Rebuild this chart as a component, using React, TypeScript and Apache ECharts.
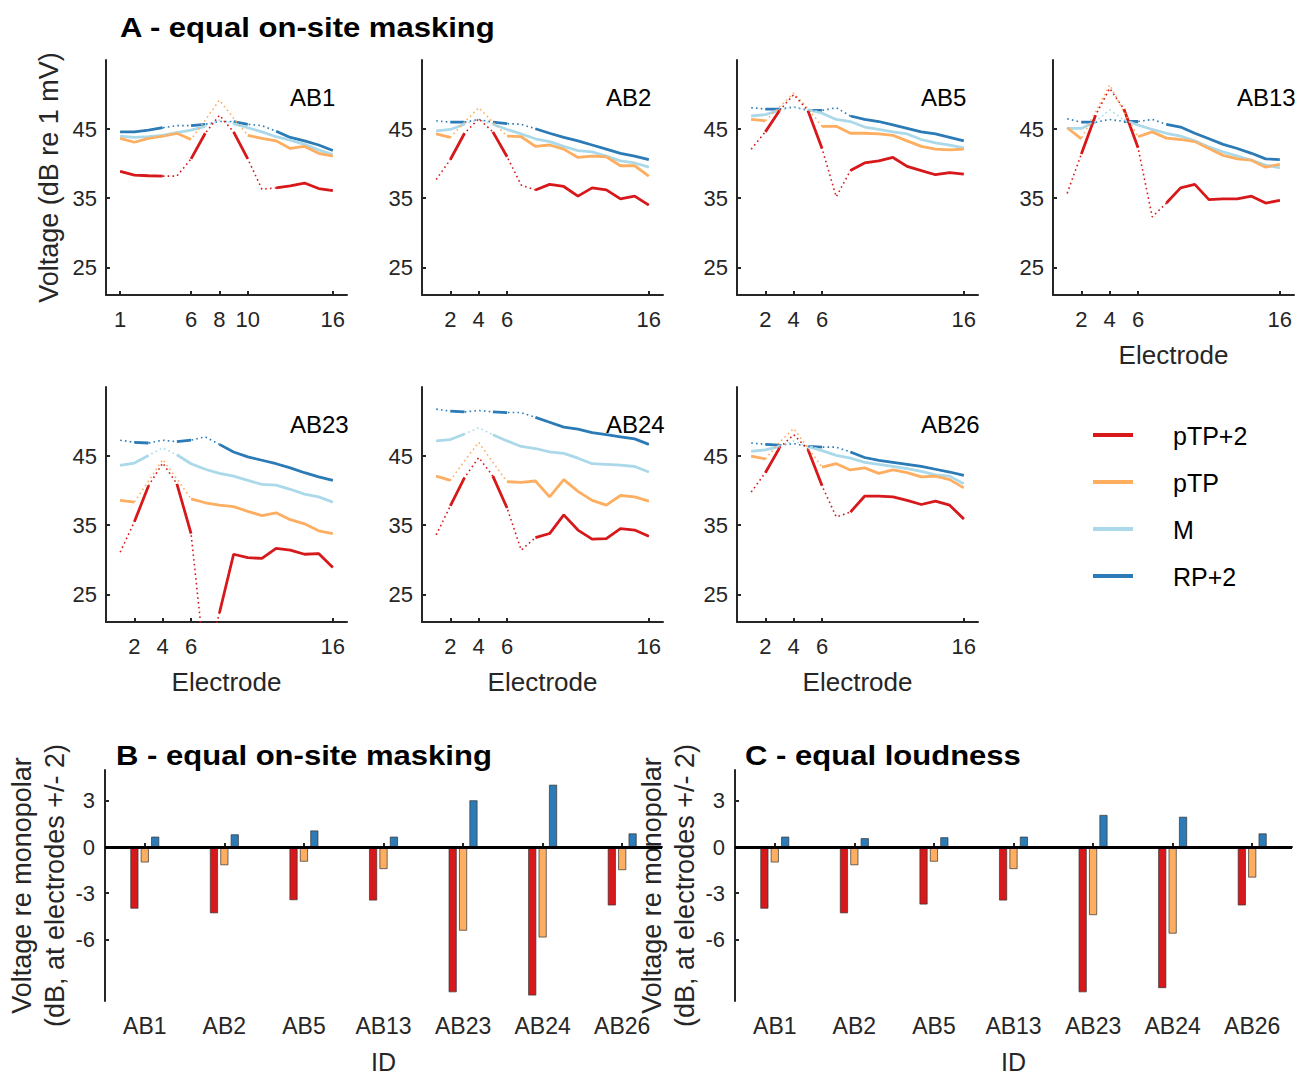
import React, { useEffect, useRef } from 'react';
import * as echarts from 'echarts';

// ---------------- DATA ----------------
const electrodes = [1, 2, 3, 4, 5, 6, 7, 8, 9, 10, 11, 12, 13, 14, 15, 16];
const seriesNames = ['pTP+2', 'pTP', 'M', 'RP+2'];
const seriesColors = ['#d7191c', '#fdae61', '#abd9e9', '#2c7bb6'];
const ids = ['AB1', 'AB2', 'AB5', 'AB13', 'AB23', 'AB24', 'AB26'];
const probeElectrode = [8, 4, 4, 4, 4, 4, 4];
// electrodes (relative to probe) with no solid segment, per series
const gapOffsets = [[-3, 0, 3], [-1, 0, 1], [0], [-3, 0, 3]];
const xTicksAB1 = [1, 6, 8, 10, 16];
const xTicksOther = [2, 4, 6, 16];
const yTicksA = [25, 35, 45];
const yTicksBC = [-6, -3, 0, 3];

const AB1_pTP2 = [38.9, 38.35, 38.25, 38.2, 38.2, 40.7, 44.4, 47.0, 44.6, 40.7, 36.3, 36.5, 36.8, 37.2, 36.4, 36.1];
const AB1_pTP = [43.65, 43.1, 43.65, 44.0, 44.4, 43.5, 46.3, 49.2, 46.6, 44.1, 43.65, 43.3, 42.2, 42.5, 41.5, 41.1];
const AB1_M = [44.0, 43.8, 43.9, 44.1, 44.5, 44.85, 45.4, 46.3, 45.8, 45.2, 44.6, 43.9, 43.4, 42.8, 42.0, 41.3];
const AB1_RP2 = [44.6, 44.6, 44.85, 45.2, 45.5, 45.5, 45.7, 46.1, 46.1, 45.7, 45.5, 44.7, 43.8, 43.3, 42.7, 41.9];

const AB2_pTP2 = [37.7, 40.6, 44.4, 46.5, 44.6, 41.0, 36.9, 36.2, 37.0, 36.7, 35.3, 36.5, 36.2, 34.9, 35.3, 34.0];
const AB2_pTP = [44.3, 43.8, 46.0, 48.1, 46.0, 44.0, 43.9, 42.5, 42.7, 42.1, 40.9, 41.1, 41.0, 39.7, 39.7, 38.2];
const AB2_M = [44.75, 44.95, 45.7, 46.4, 45.7, 44.95, 44.3, 43.6, 43.2, 42.5, 41.9, 41.7, 41.1, 40.4, 40.1, 39.5];
const AB2_RP2 = [46.2, 46.0, 46.0, 46.4, 46.0, 45.8, 45.7, 45.05, 44.4, 43.8, 43.3, 42.7, 42.1, 41.5, 41.1, 40.6];

const AB5_pTP2 = [42.1, 44.6, 47.7, 50.0, 47.7, 42.2, 35.2, 39.0, 40.1, 40.4, 40.9, 39.6, 39.0, 38.4, 38.7, 38.5];
const AB5_pTP = [46.4, 46.2, 48.2, 50.2, 48.0, 45.4, 45.4, 44.4, 44.4, 44.3, 44.1, 43.3, 42.5, 42.1, 42.0, 42.1];
const AB5_M = [46.9, 47.1, 47.7, 48.2, 47.8, 47.3, 46.4, 46.1, 45.3, 44.95, 44.6, 44.3, 43.5, 43.0, 42.7, 42.3];
const AB5_RP2 = [48.1, 47.9, 47.9, 48.2, 47.7, 47.7, 48.1, 46.9, 46.4, 46.1, 45.6, 45.1, 44.6, 44.3, 43.8, 43.3];

const AB13_pTP2 = [35.7, 41.4, 47.0, 50.9, 47.9, 42.3, 32.3, 34.3, 36.5, 37.0, 34.8, 34.9, 34.9, 35.3, 34.3, 34.7];
const AB13_pTP = [45.2, 43.6, 47.5, 51.4, 47.5, 43.9, 44.6, 43.7, 43.5, 43.2, 42.2, 41.2, 40.7, 40.5, 39.5, 39.9];
const AB13_M = [45.1, 45.1, 46.1, 47.8, 46.3, 45.6, 44.95, 44.4, 44.0, 43.3, 42.4, 41.7, 41.1, 40.5, 39.8, 39.4];
const AB13_RP2 = [46.5, 46.0, 46.0, 46.4, 46.1, 46.1, 46.4, 45.7, 45.3, 44.4, 43.6, 42.8, 42.2, 41.5, 40.7, 40.6];

const AB23_pTP2 = [31.1, 35.5, 40.7, 44.0, 41.0, 33.8, 14.5, 22.3, 30.8, 30.3, 30.2, 31.65, 31.4, 30.8, 30.9, 28.9];
const AB23_pTP = [38.6, 38.35, 41.4, 44.5, 41.7, 38.8, 38.25, 37.9, 37.7, 37.0, 36.4, 36.8, 35.8, 35.2, 34.2, 33.8];
const AB23_M = [43.65, 44.0, 45.1, 46.2, 45.2, 43.9, 43.1, 42.5, 42.1, 41.5, 40.9, 40.8, 40.2, 39.5, 39.1, 38.35];
const AB23_RP2 = [47.3, 47.0, 46.9, 47.3, 47.1, 47.3, 47.8, 46.7, 45.6, 44.9, 44.4, 43.9, 43.3, 42.6, 42.0, 41.5];

const AB24_pTP2 = [33.6, 37.8, 41.9, 44.8, 42.1, 37.5, 31.4, 33.2, 33.8, 36.5, 34.3, 33.0, 33.05, 34.5, 34.3, 33.4];
const AB24_pTP = [42.1, 41.5, 44.3, 47.0, 44.1, 41.3, 41.2, 41.4, 39.1, 41.6, 39.9, 38.6, 37.9, 39.3, 39.1, 38.5];
const AB24_M = [47.2, 47.4, 48.2, 49.1, 48.1, 47.2, 46.4, 46.1, 45.6, 45.4, 44.7, 43.9, 43.8, 43.7, 43.5, 42.7];
const AB24_RP2 = [51.8, 51.5, 51.4, 51.6, 51.4, 51.3, 51.3, 50.6, 49.9, 49.2, 48.9, 48.4, 48.1, 47.8, 47.5, 46.7];

const AB26_pTP2 = [39.8, 42.6, 46.2, 48.1, 46.0, 40.7, 36.2, 36.9, 39.2, 39.2, 39.1, 38.6, 38.0, 38.5, 37.9, 35.9];
const AB26_pTP = [45.0, 44.6, 47.0, 49.0, 46.2, 43.4, 43.9, 43.0, 43.3, 42.5, 43.0, 42.6, 42.0, 42.1, 41.6, 40.4];
const AB26_M = [45.7, 45.9, 46.4, 47.2, 46.4, 45.8, 45.1, 44.7, 44.1, 43.8, 43.5, 43.2, 42.8, 42.3, 42.1, 41.0];
const AB26_RP2 = [46.9, 46.7, 46.6, 46.8, 46.4, 46.3, 46.3, 45.6, 44.8, 44.4, 44.1, 43.8, 43.5, 43.1, 42.7, 42.2];

// Bar charts (voltage re monopolar at electrodes +/- 2): pTP+2, pTP, RP+2
const B_pTP2 = [-4.0, -4.3, -3.45, -3.47, -9.43, -9.64, -3.79];
const B_pTP = [-1.0, -1.18, -0.95, -1.43, -5.43, -5.87, -1.5];
const B_RP2 = [0.67, 0.82, 1.07, 0.67, 3.03, 4.04, 0.88];
const C_pTP2 = [-4.0, -4.3, -3.73, -3.47, -9.43, -9.16, -3.79];
const C_pTP = [-1.0, -1.18, -0.95, -1.43, -4.42, -5.62, -1.98];
const C_RP2 = [0.67, 0.57, 0.63, 0.67, 2.08, 1.96, 0.88];

const panelValues = [
  [AB1_pTP2, AB1_pTP, AB1_M, AB1_RP2],
  [AB2_pTP2, AB2_pTP, AB2_M, AB2_RP2],
  [AB5_pTP2, AB5_pTP, AB5_M, AB5_RP2],
  [AB13_pTP2, AB13_pTP, AB13_M, AB13_RP2],
  [AB23_pTP2, AB23_pTP, AB23_M, AB23_RP2],
  [AB24_pTP2, AB24_pTP, AB24_M, AB24_RP2],
  [AB26_pTP2, AB26_pTP, AB26_M, AB26_RP2],
];

// ---------------- LAYOUT ----------------
const FONT = '"Liberation Sans", Arial, Helvetica, sans-serif';
const AXIS_COLOR = '#262626';
const colLeft = [106, 422, 737, 1053];
const rowTop = [60, 387];
const PW = 241;
const PH = 235;

function buildOption() {
  const grid: any[] = [];
  const xAxis: any[] = [];
  const yAxis: any[] = [];
  const series: any[] = [];
  const graphic: any[] = [];

  const axisLineStyle = { show: true, lineStyle: { color: AXIS_COLOR, width: 2 } };

  ids.forEach((id, p) => {
    const row = p < 4 ? 0 : 1;
    const col = p < 4 ? p : p - 4;
    const left = colLeft[col];
    const top = rowTop[row];
    grid.push({ left, top, width: PW, height: PH, containLabel: false });
    const xt = p === 0 ? xTicksAB1 : xTicksOther;
    const showXName = p >= 3;
    xAxis.push({
      type: 'value', gridIndex: p, min: 0, max: 17,
      axisLine: axisLineStyle,
      axisTick: { show: true, inside: true, length: 4, customValues: xt, lineStyle: { color: AXIS_COLOR, width: 2 } },
      axisLabel: { show: true, customValues: xt, fontSize: 22, color: AXIS_COLOR, fontFamily: FONT, margin: 13 },
      splitLine: { show: false },
      name: showXName ? 'Electrode' : '',
      nameLocation: 'middle', nameGap: 47,
      nameTextStyle: { fontSize: 26, color: AXIS_COLOR, fontFamily: FONT },
    });
    yAxis.push({
      type: 'value', gridIndex: p, min: 21, max: 55,
      axisLine: axisLineStyle,
      axisTick: { show: true, inside: true, length: 4, customValues: yTicksA, lineStyle: { color: AXIS_COLOR, width: 2 } },
      axisLabel: { show: true, customValues: yTicksA, fontSize: 22, color: AXIS_COLOR, fontFamily: FONT, margin: 9 },
      splitLine: { show: false },
      name: p === 0 ? 'Voltage (dB re 1 mV)' : '',
      nameLocation: 'middle', nameGap: 44,
      nameTextStyle: { fontSize: 27, color: AXIS_COLOR, fontFamily: FONT },
    });
    const vals = panelValues[p];
    // dotted lines through all electrodes
    [3, 2, 1, 0].forEach((k) => {
      series.push({
        type: 'line', xAxisIndex: p, yAxisIndex: p, name: seriesNames[k],
        data: electrodes.map((e, i) => [e, vals[k][i]]),
        showSymbol: false, symbol: 'none', z: 3, clip: true,
        lineStyle: { color: seriesColors[k], width: 1.6, type: [1.6, 3.2] },
        silent: true,
      });
    });
    // solid segments
    [3, 2, 1, 0].forEach((k) => {
      const gaps = gapOffsets[k].map((o) => probeElectrode[p] + o);
      series.push({
        type: 'line', xAxisIndex: p, yAxisIndex: p, name: seriesNames[k],
        data: electrodes.map((e, i) => [e, gaps.includes(e) ? null : vals[k][i]]),
        connectNulls: false,
        showSymbol: false, symbol: 'none', z: 2, clip: true,
        lineStyle: { color: seriesColors[k], width: 2.8, type: 'solid' },
        silent: true,
      });
    });
    graphic.push({
      type: 'text', x: left + 184, y: top + 37,
      style: { text: id, fontSize: 24, fontFamily: FONT, fill: '#000', textAlign: 'left', textVerticalAlign: 'middle' },
    });
  });

  // Bar charts
  const barGrids = [
    { left: 105, title: 'B - equal on-site masking', titleX: 116, data: [B_pTP2, B_pTP, B_RP2] },
    { left: 735, title: 'C - equal loudness', titleX: 745, data: [C_pTP2, C_pTP, C_RP2] },
  ];
  const barColorIdx = [0, 1, 3];
  barGrids.forEach((bg, b) => {
    const gi = ids.length + b;
    grid.push({ left: bg.left, top: 770, width: 557, height: 239 });
    xAxis.push({
      type: 'category', gridIndex: gi, data: ids, boundaryGap: true,
      axisLine: axisLineStyle,
      axisTick: { show: true, inside: true, length: 4, alignWithLabel: true, lineStyle: { color: AXIS_COLOR, width: 2 } },
      axisLabel: { fontSize: 23, color: AXIS_COLOR, fontFamily: FONT, margin: 13, interval: 0 },
      splitLine: { show: false },
      name: 'ID', nameLocation: 'middle', nameGap: 48,
      nameTextStyle: { fontSize: 25, color: AXIS_COLOR, fontFamily: FONT },
    });
    yAxis.push({
      type: 'value', gridIndex: gi, min: -10, max: 5,
      axisLine: axisLineStyle,
      axisTick: { show: true, inside: true, length: 4, customValues: yTicksBC, lineStyle: { color: AXIS_COLOR, width: 2 } },
      axisLabel: { customValues: yTicksBC, fontSize: 22, color: AXIS_COLOR, fontFamily: FONT, margin: 10 },
      splitLine: { show: false },
      name: 'Voltage re monopolar\n(dB, at electrodes +/- 2)',
      nameLocation: 'middle', nameGap: 32,
      nameTextStyle: { fontSize: 27, color: AXIS_COLOR, fontFamily: FONT, lineHeight: 33 },
    });
    bg.data.forEach((d, j) => {
      const s: any = {
        type: 'bar', xAxisIndex: gi, yAxisIndex: gi, name: seriesNames[barColorIdx[j]],
        data: d, barWidth: 8, barGap: '30%',
        itemStyle: { color: seriesColors[barColorIdx[j]], borderColor: '#333', borderWidth: 0.7 },
        silent: true,
      };
      if (j === 0) {
        s.markLine = {
          silent: true, symbol: 'none', z: 10,
          label: { show: false },
          lineStyle: { color: '#000', width: 3, type: 'solid' },
          data: [{ yAxis: 0 }],
        };
      }
      series.push(s);
    });
    graphic.push({
      type: 'text', x: bg.titleX, y: 756, scaleX: 1.15,
      style: { text: bg.title, fontSize: 27, fontWeight: 'bold', fontFamily: FONT, fill: '#000', textVerticalAlign: 'middle' },
    });
  });

  graphic.push({
    type: 'text', x: 120, y: 28, scaleX: 1.15,
    style: { text: 'A - equal on-site masking', fontSize: 27, fontWeight: 'bold', fontFamily: FONT, fill: '#000', textVerticalAlign: 'middle' },
  });

  // legend
  seriesNames.forEach((n, k) => {
    const y = 435 + k * 47;
    graphic.push({ type: 'line', shape: { x1: 1093, y1: y, x2: 1133, y2: y }, style: { stroke: seriesColors[k], lineWidth: 4 } });
    graphic.push({
      type: 'text', x: 1173, y: y + 1,
      style: { text: n, fontSize: 25, fontFamily: FONT, fill: '#000', textVerticalAlign: 'middle' },
    });
  });

  return {
    animation: false,
    backgroundColor: '#ffffff',
    textStyle: { fontFamily: FONT },
    grid, xAxis, yAxis, series, graphic,
  };
}

export default function App() {
  const ref = useRef<HTMLDivElement>(null);
  useEffect(() => {
    if (!ref.current) return;
    const chart = echarts.init(ref.current, null, { renderer: 'svg' });
    chart.setOption(buildOption() as any);
    return () => chart.dispose();
  }, []);
  return <div ref={ref} style={{ position: 'absolute', left: 0, top: 0, width: 1299, height: 1075 }} />;
}
